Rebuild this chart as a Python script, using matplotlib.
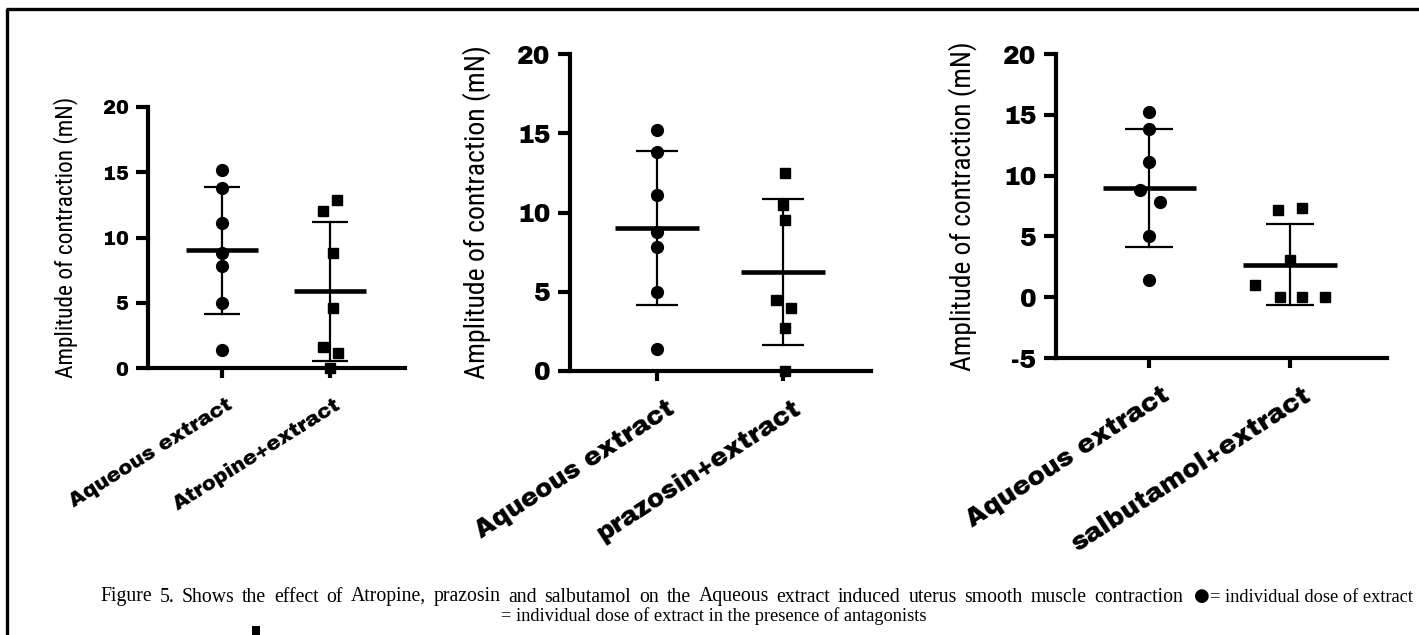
import numpy as np
import matplotlib
matplotlib.use("Agg")
import matplotlib.pyplot as plt
from matplotlib.lines import Line2D
from matplotlib.patches import Rectangle
from matplotlib.transforms import ScaledTranslation

# ---------------- data ----------------
groups_p1 = ["Aqueous extract", "Atropine+extract"]
groups_p2 = ["Aqueous extract", "prazosin+extract"]
groups_p3 = ["Aqueous extract", "salbutamol+extract"]

aqueous = [15.2, 13.8, 11.1, 8.8, 7.8, 5.0, 1.4]
atropine = [12.9, 12.0, 8.8, 4.6, 1.6, 1.15, 0.0]
prazosin = [12.5, 10.5, 9.5, 4.5, 4.0, 2.7, 0.0]
salbutamol = [7.3, 7.2, 3.1, 1.0, 0.0, 0.0, 0.0]

yticks_p1 = [0, 5, 10, 15, 20]
yticks_p2 = [0, 5, 10, 15, 20]
yticks_p3 = [-5, 0, 5, 10, 15, 20]

ylabel = "Amplitude of contraction (mN)"
caption1a = ("Figure 5. Shows the effect of Atropine, prazosin and salbutamol on the Aqueous "
             "extract induced uterus smooth muscle contraction")
caption1b = "\u25CF"
caption1c = "= individual dose of extract"
caption2 = "= individual dose of extract in the presence of antagonists"

# horizontal scatter offsets of the points (layout only)
jit_p1 = ([0, 0, 0, 0, 0, 0, 0], [0.065, -0.065, 0.028, 0.028, -0.065, 0.074, 0])
jit_p2 = ([0, 0, 0, 0, 0, 0, 0], [0.016, 0, 0.016, -0.056, 0.063, 0.016, 0.016])
jit_p3 = ([0, 0, 0, -0.064, 0.078, 0, 0], [0.085, -0.085, 0, -0.248, -0.071, 0.085, 0.248])

W, H = 1419, 635
fig = plt.figure(figsize=(W / 100, H / 100), dpi=100)

TICKFONT = ["Archivo Black", "DejaVu Sans"]
LABELFONT = ["Roboto Condensed", "DejaVu Sans"]
SERIF = ["Liberation Serif", "DejaVu Serif"]

panels = [
    dict(rect=(148, 405, 107, 368), ylim=(0, 20), yticks=yticks_p1, xlim=(-0.685, 1.694),
         groups=groups_p1, data=(aqueous, atropine), jit=jit_p1, tfs=14, lfs=16.8, xfs=15,
         rot=32, lab_off=(4, -27), ylab_x=-82),
    dict(rect=(570, 871, 54, 371), ylim=(0, 20), yticks=yticks_p2, xlim=(-0.690, 1.698),
         groups=groups_p2, data=(aqueous, prazosin), jit=jit_p2, tfs=18, lfs=20, xfs=18.5,
         rot=33, lab_off=(9, -25), ylab_x=-93),
    dict(rect=(1056, 1387, 54, 358), ylim=(-5, 20), yticks=yticks_p3, xlim=(-0.660, 1.688),
         groups=groups_p3, data=(aqueous, salbutamol), jit=jit_p3, tfs=18, lfs=19.7, xfs=18.8,
         rot=33, lab_off=(12, -25), ylab_x=-93),
]

for p in panels:
    x0, x1, ytop, ybot = p["rect"]
    ax = fig.add_axes([x0 / W, 1 - ybot / H, (x1 - x0) / W, (ybot - ytop) / H])
    ax.set_xlim(*p["xlim"])
    ax.set_ylim(*p["ylim"])
    for s in ["top", "right"]:
        ax.spines[s].set_visible(False)
    for s in ["left", "bottom"]:
        ax.spines[s].set_linewidth(3.0)
        ax.spines[s].set_capstyle("projecting")
    ax.set_yticks(p["yticks"])
    ax.set_yticklabels([str(t) for t in p["yticks"]], fontfamily=TICKFONT,
                       fontsize=p["tfs"])
    ax.tick_params(axis="y", length=9, width=3, pad=5)
    ax.set_xticks([0, 1])
    ax.set_xticklabels([])
    ax.tick_params(axis="x", length=7.5, width=3)

    markers = ["o", "s"]
    msizes = [8.5, 7.5]
    for i, vals in enumerate(p["data"]):
        vals = np.asarray(vals, dtype=float)
        xs = i + np.asarray(p["jit"][i])
        ax.plot(xs, vals, linestyle="none", marker=markers[i], ms=msizes[i],
                color="black", clip_on=False, zorder=3)
        m = vals.mean()
        sd = vals.std(ddof=1)
        ax.plot([i - 0.33, i + 0.33], [m, m], color="black", lw=3.3,
                solid_capstyle="butt", zorder=4, clip_on=False)
        ax.plot([i, i], [m - sd, m + sd], color="black", lw=1.6, zorder=4, clip_on=False)
        for v in (m - sd, m + sd):
            ax.plot([i - 0.17, i + 0.17], [v, v], color="black", lw=1.6,
                    solid_capstyle="butt", zorder=4, clip_on=False)

    # rotated category labels
    dx, dy = p["lab_off"]
    for i, g in enumerate(p["groups"]):
        tr = ax.get_xaxis_transform() + ScaledTranslation(dx / 100, dy / 100, fig.dpi_scale_trans)
        ax.text(i, 0, g, transform=tr, rotation=p["rot"], rotation_mode="anchor",
                ha="right", va="top", fontfamily=TICKFONT, fontsize=p["xfs"])

    ax.text(p["ylab_x"] / (x1 - x0), 0.5, ylabel, transform=ax.transAxes, rotation=90,
            ha="center", va="center", fontfamily=LABELFONT, fontsize=p["lfs"])

# ---------------- caption ----------------
CFS_A = 14.2
CFS = 13.2
y1 = 1 - 597 / H
fig.canvas.draw()
r = fig.canvas.get_renderer()
# first line is (lightly) justified: words spread between x=100 and x=1183
words = caption1a.split(" ")
wtexts = [fig.text(0, y1, w, ha="left", va="center", fontfamily=SERIF, fontsize=CFS_A)
          for w in words]
widths = [t.get_window_extent(r).width for t in wtexts]
left, right = 100.0, 1183.0
gap = (right - left - sum(widths)) / (len(words) - 1)
xpos = left
for t, wdt in zip(wtexts, widths):
    t.set_x(xpos / W)
    xpos += wdt + gap
t2 = fig.text(1194 / W, y1 + 0.002, caption1b, ha="left", va="center",
              fontfamily=["DejaVu Sans"], fontsize=13)
bb2 = t2.get_window_extent(r)
fig.text((bb2.x1 + 0.5) / W, y1, caption1c, ha="left", va="center", fontfamily=SERIF,
         fontsize=CFS)
fig.text(714 / W, 1 - 616 / H, caption2, ha="center", va="center",
         fontfamily=SERIF, fontsize=CFS)
fig.patches.append(Rectangle((252 / W, 0), 8 / W, 9 / H, transform=fig.transFigure,
                             facecolor="black", edgecolor="none"))

# partial frame (left and top edges)
fig.add_artist(Line2D([7 / W, 7 / W], [0, 1 - 9 / H], transform=fig.transFigure,
                      color="black", lw=2.4, solid_capstyle="butt"))
fig.add_artist(Line2D([6 / W, 1], [1 - 9 / H, 1 - 9 / H], transform=fig.transFigure,
                      color="black", lw=2.4, solid_capstyle="butt"))

fig.savefig("out.png", dpi=100, facecolor="white")
